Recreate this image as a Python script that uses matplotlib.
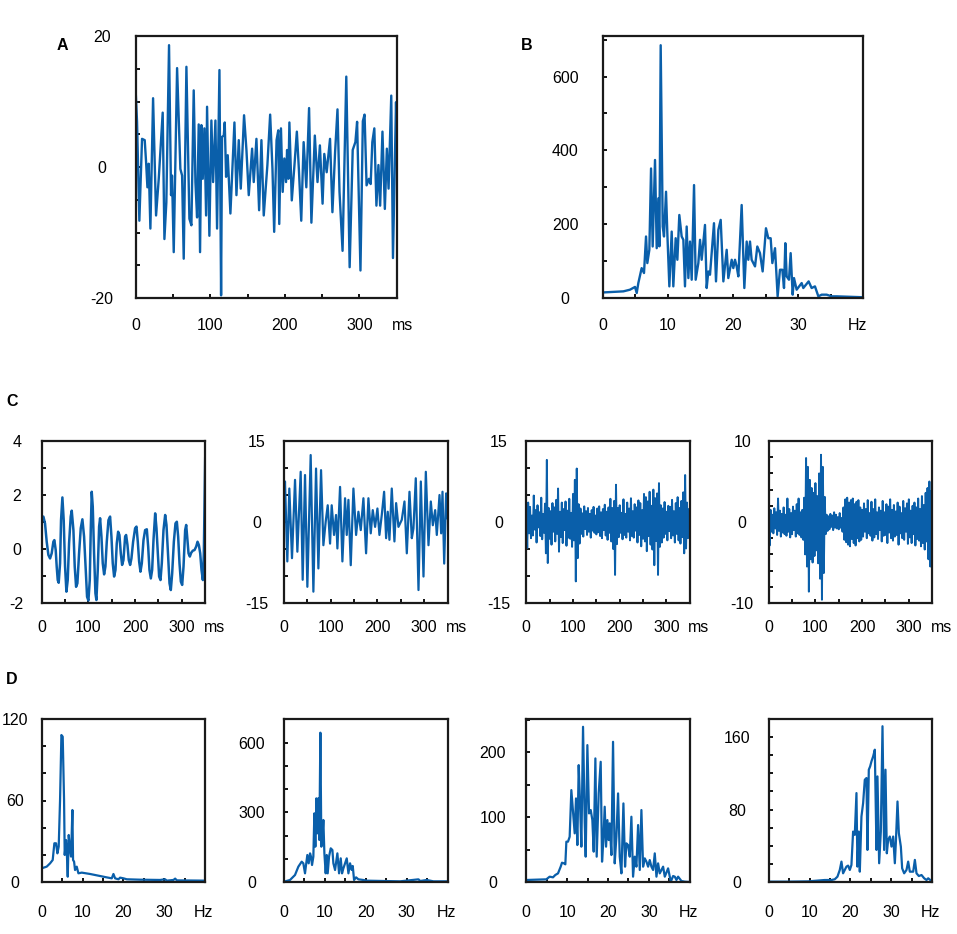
import matplotlib
matplotlib.use("Agg")
import matplotlib.pyplot as plt

plt.rcParams['font.family'] = ['Liberation Sans', 'DejaVu Sans']
plt.rcParams['font.size'] = 11.5

BLUE = '#0A5FAA'

# ---------------- Panel A : raw signal (ms, value) ----------------
a_t = [0, 1.8, 4.9, 8.5, 12.1, 13.9, 15.7, 17.4, 19.7, 23.3, 27.3, 30.9, 36.2, 38.5, 41.1, 44.7,
       47.4, 48.7, 51.0, 55.5, 59.9, 62.2, 64.4, 68.0, 72.0, 74.7, 77.8, 80.1, 82.3, 84.5, 86.3,
       88.1, 89.9, 92.1, 94.4, 95.7, 98.8, 101.5, 103.8, 106.9, 109.1, 112.3, 114.5, 115.8, 118.1,
       119.4, 121.2, 123.4, 127.0, 132.4, 135.1, 138.2, 140.9, 145.3, 148.5, 151.6, 156.1, 158.3,
       161.9, 165.5, 168.6, 171.7, 176.6, 180.3, 183.4, 185.7, 188.9, 191.2, 192.5, 194.8, 197.1,
       199.3, 201.6, 203.0, 204.8, 206.1, 209.3, 212.9, 216.1, 218.8, 222.0, 225.2, 228.8, 232.5,
       235.6, 240.2, 243.8, 247.0, 250.6, 252.9, 256.1, 260.6, 263.8, 267.4, 270.6, 273.3, 277.4,
       282.4, 286.9, 291.0, 294.6, 296.9, 301.4, 304.6, 306.9, 309.6, 312.8, 315.1, 317.3, 320.0,
       322.8, 325.5, 327.8, 330.9, 334.1, 336.8, 339.1, 342.7, 345.0, 349.1, 350.0]
a_v = [11.5, 6.9, -8.2, 4.3, 4.1, 0.8, -3.1, 0.5, -9.4, 10.5, -7.4, -1.8, 8.3, -11.0, -5.4, 18.6,
       -4.3, -1.3, -13.0, 15.1, -0.3, -1.3, -14.0, 15.3, -7.9, -8.9, 11.7, -2.3, -7.7, 6.5, -13.0,
       6.4, -1.8, 5.9, -7.4, 9.2, -10.5, 7.1, -2.3, 7.1, -9.4, 14.8, -19.6, 4.6, 4.8,
       6.8, -1.5, 1.8, -7.1, 6.8, -4.3, 4.1, -3.3, 7.9, 2.6, -4.3, 2.8, -2.3,
       4.3, -6.6, 4.1, -7.4, 0.3, 8.0, -0.3, -9.9, 4.1, 5.6, -8.7, 5.9, -3.8,
       1.3, -2.3, 2.6, -1.8, 6.8, -5.1, 0.3, 5.4, -0.3, -8.2, 3.8, -3.1, 9.0,
       -8.5, 4.8, -2.3, 3.3, -5.6, 2.0, -0.8, 4.3, -6.9, 2.3, 8.8, -3.8, -12.8,
       13.8, -15.3, 2.6, 3.8, 6.9, -15.8, 7.0, 8.0, -2.8, -1.8, -2.6, 3.8, 5.9,
       -5.9, 0.3, -5.9, 5.4, -6.4, 2.8, -3.3, 10.9, -13.9, 9.9, 3.8]

# ---------------- Panel B : spectrum (Hz, power) ----------------
b_f = [0, 3.17, 4.19, 4.96, 5.22, 5.47, 5.98, 6.34, 6.65, 6.85, 7.16, 7.42, 7.67, 8.03, 8.29, 8.54,
       8.70, 8.90, 9.21, 9.41, 9.72, 9.92, 10.23, 10.59, 10.84, 11.20, 11.46, 11.76, 12.12, 12.38,
       12.63, 12.89, 13.15, 13.40, 13.66, 14.02, 14.27, 14.68, 14.94, 15.19, 15.70, 15.96, 16.21,
       16.47, 17.08, 17.39, 17.75, 18.11, 18.52, 19.03, 19.28, 19.80, 20.05, 20.31, 20.56, 20.82,
       21.33, 21.74, 22.10, 22.35, 22.61, 22.86, 23.38, 23.73, 24.14, 24.55, 25.06, 25.42, 25.78,
       26.04, 26.45, 26.85, 27.21, 27.57, 27.83, 28.03, 28.24, 28.59, 28.85, 29.16, 29.36, 29.77,
       30.54, 30.79, 31.61, 32.07, 32.58, 33.10, 33.61, 34.37, 35.14, 35.91, 40.0]
b_p = [15, 18, 22.5, 30, 13.5, 40.5, 81, 67.6, 166.7, 94.6, 130.6, 351, 139.6, 374, 135, 270,
       140, 685, 193.7, 166.7, 288, 175.7, 31.5, 180, 31.5, 162, 103.6, 225, 166.7, 157.7,
       31.5, 193.7, 54, 153, 49.5, 306, 49.5, 94.6, 157.7, 103.6, 198, 27, 72,
       63, 202.7, 45, 184.7, 211.7, 45, 130.6, 54, 103.6, 81, 103.6, 85.6, 58.6,
       252, 27, 153, 103.6, 153, 103.6, 85.6, 139.6, 121.6, 72, 189, 162, 162,
       94.6, 135, 4.5, 76.6, 76.6, 27, 148.6, 58.6, 49.5, 121.6, 9, 54, 22.5,
       40.5, 27, 45, 27, 31.5, 4.5, 9, 9, 4.5, 4.5, 2]

# ---------------- Panel C : band-filtered signals ----------------
c1_t = [0, 3.6, 7.1, 10.7, 14.3, 17.9, 21.4, 25.0, 27.1, 30.0, 32.1, 34.3, 36.4, 39.3, 41.4, 44.3,
        47.1, 50.0, 52.9, 55.7, 58.6, 62.1, 64.3, 67.9, 70.7, 73.6, 76.4, 80.0, 83.6, 87.1, 90.7,
        94.3, 97.1, 100.0, 102.9, 105.0, 107.1, 109.3, 112.1, 115.0, 117.1, 120.0, 122.9, 125.0,
        127.9, 130.7, 133.6, 136.4, 139.3, 142.9, 146.4, 149.3, 152.1, 155.0, 157.9, 160.7, 163.6,
        166.4, 169.3, 172.1, 175.0, 178.6, 180.7, 183.6, 186.4, 189.3, 192.1, 195.7, 200.0, 202.9,
        205.7, 208.6, 211.4, 214.3, 217.9, 221.4, 225.0, 227.9, 230.7, 233.6, 236.4, 239.3, 242.9,
        245.7, 248.6, 251.4, 254.3, 257.1, 260.7, 264.3, 267.1, 270.7, 273.6, 276.4, 279.3, 282.9,
        286.4, 289.3, 292.1, 295.0, 297.9, 300.7, 303.6, 307.1, 309.3, 311.4, 314.3, 317.1, 320.0,
        323.6, 327.1, 330.7, 333.6, 336.4, 339.3, 342.1, 345.0, 347.1, 348.6, 350.0]
c1_v = [1.14, 1.20, 0.95, 0.27, -0.22, -0.35, -0.16, 0.27, 0.33, -0.04, -0.65, -1.15, -1.25, -0.53,
        1.07, 1.91, 1.07, -0.65, -1.58, -1.15, 0.21, 1.20, 1.42, 0.70, -0.65, -1.40, -1.27, -0.16,
        0.77, 1.10, 0.46, -0.78, -1.77, -1.91, -1.15, 0.70, 2.12, 1.57, -0.16, -1.64, -1.89, -0.78,
        0.83, 1.14, 0.46, -0.53, -0.94, -0.65, 0.27, 1.07, 1.20, 0.46, -0.53, -1.02, -0.78, 0.21,
        0.64, 0.52, -0.16, -0.59, -0.41, 0.46, 0.52, 0.15, -0.41, -0.59, -0.35, 0.27, 0.77, 0.83,
        0.27, -0.47, -0.84, -0.53, 0.33, 0.70, 0.73, 0.09, -0.78, -1.09, -0.78, 0.33, 1.32,
        0.77, -0.16, -1.02, -1.15, -0.53, 0.70, 1.26, 0.89, -0.28, -1.27, -1.52, -0.90, 0.27,
        0.95, 1.01, 0.46, -0.53, -1.21, -1.33, -0.65, 0.70, 0.89, 0.46, -0.16, -0.28, -0.14,
        -0.06, -0.04, 0.09, 0.27, 0.15, -0.16, -0.78, -1.15, -0.16, 1.69, 3.36]

c2_t = [0, 2.1, 7.1, 11.4, 17.1, 23.6, 28.6, 35.7, 40.0, 45.0, 50.0, 57.1, 62.9, 68.6, 73.6, 79.3,
        84.3, 89.3, 93.6, 98.6, 102.1, 107.1, 111.4, 114.3, 120.0, 125.0, 130.7, 134.3, 137.9,
        142.9, 148.6, 154.3, 159.3, 164.3, 170.0, 175.7, 180.7, 185.7, 190.0, 195.0, 200.0, 204.3,
        209.3, 214.3, 218.6, 222.1, 225.7, 230.7, 236.4, 240.0, 245.0, 252.1, 257.9, 262.9, 268.6,
        273.6, 277.1, 282.1, 287.9, 292.9, 298.6, 303.6, 309.3, 314.3, 318.6, 323.6, 327.1, 332.9,
        336.4, 339.3, 342.9, 347.1, 350.0]
c2_v = [1.0, 7.5, -7.3, 6.2, -6.7, 7.8, -5.5, 9.3, -10.7, 8.7, -12.0, 12.4, -12.9, 9.9, -8.6, 9.6,
        -4.3, 0.1, 3.1, -4.0, 3.1, -2.4, 1.3, -4.9, 6.5, -7.3, 4.4, -2.4, 4.1,
        -8.0, 6.2, -2.4, 1.9, -1.5, 4.4, -5.8, 4.4, -2.1, 2.2, -0.9, 2.5, -2.4,
        1.3, 5.6, -3.0, 1.9, -3.3, 6.2, -3.6, 3.5, -0.9, 0.4, 3.8, -5.8, 5.6,
        -3.0, -1.2, 8.1, -12.6, 7.5, -10.1, 9.3, -4.3, 3.8, -0.6, 2.2, -2.4, 5.0,
        -2.1, 5.6, -7.7, 5.3, 0.7]

# C3 and C4 sampled every 2 ms from 0 to 350 ms
c34_t = list(range(0, 351, 2))
c3_v = [1.5, -4.8, 3.6, -2.1, 2.8, -3.0, 1.2, -2.5, 4.9, -1.4,
        2.2, -3.8, 3.1, -1.0, 1.8, -2.6, 4.5, -3.2, 1.5, -2.0,
        3.4, -5.8, 11.5, -7.6, 2.6, -3.1, 2.0, -4.2, 3.5, -1.8,
        2.7, -3.6, 4.1, -2.2, 6.2, -5.5, 1.9, -2.8, 3.6, -3.9,
        2.4, -1.5, 3.8, -4.4, 2.1, -2.9, 4.3, -3.1, 1.7, -4.6,
        5.2, -3.4, 7.8, -11.0, 9.9, -6.7, 3.3, -4.0, 2.5, -2.2,
        1.6, -2.7, 2.9, -1.3, 2.0, -2.4, 2.6, -1.8, 1.5, -2.9,
        2.2, -1.6, 2.8, -2.0, 1.2, -2.3, 2.5, -1.9, 2.9, -2.6,
        1.8, -3.0, 2.4, -1.5, 3.2, -2.5, 1.9, -3.3, 2.7, -2.0,
        4.3, -3.6, 2.6, -5.0, 3.9, -9.8, 6.9, -4.1, 2.6, -2.8,
        3.1, -2.0, 1.7, -3.2, 4.2, -2.4, 1.5, -2.9, 3.6, -1.8,
        2.5, -3.4, 4.4, -2.6, 2.0, -2.9, 3.3, -1.6, 2.7, -3.8,
        4.0, -2.4, 3.5, -4.5, 2.2, -3.1, 5.2, -3.6, 4.6, -5.4,
        3.8, -2.6, 5.6, -4.2, 3.0, -5.1, 6.0, -8.0, 4.4, -3.5,
        5.3, -9.8, 7.2, -4.6, 3.1, -3.8, 2.5, -2.9, 3.7, -2.2,
        1.9, -3.4, 3.0, -1.7, 2.8, -3.0, 4.1, -2.5, 2.0, -3.8,
        3.5, -2.2, 4.6, -3.4, 2.6, -4.0, 3.9, -2.8, 5.5, -5.8,
        8.7, -4.9, 3.6, -3.0, 2.4, 0.5]
c4_v = [4.1, -2.9, 1.5, -1.2, 0.9, -1.4, 1.7, -0.8, 1.2, -1.6,
        2.9, -1.1, 1.4, -1.8, 1.0, -1.3, 1.8, -1.5, 0.9, -1.7,
        2.9, -1.2, 1.6, -1.9, 1.1, -1.5, 1.9, -1.0, 1.4, -1.8,
        2.2, -1.4, 2.9, -1.6, 1.2, -1.9, 1.5, -2.2, 3.0, -4.0,
        7.9, -5.5, 6.8, -8.6, 5.2, -4.6, 4.2, -5.0, 3.6, -4.2,
        4.8, -3.5, 3.2, -5.1, 6.0, -7.0, 8.3, -9.6, 6.8, -6.3,
        3.1, -1.5, 0.9, -1.1, 0.7, -0.9, 1.0, -0.6, 0.8, -1.0,
        1.2, -0.7, 0.9, -0.8, 0.6, -0.9, 1.1, -0.7, 0.5, -1.2,
        1.8, -2.2, 2.8, -2.5, 3.0, -2.8, 2.4, -3.0, 2.7, -2.1,
        2.9, -2.6, 2.2, -2.9, 2.5, -2.0, 2.7, -2.4, 1.8, -2.2,
        1.5, -1.8, 2.3, -1.2, 1.6, -2.0, 2.7, -1.4, 1.1, -1.7,
        2.5, -2.3, 1.6, -1.9, 2.8, -1.5, 1.2, -2.1, 1.8, -1.0,
        1.4, -2.4, 2.6, -1.7, 1.2, -1.6, 2.2, -2.6, 1.9, -1.3,
        2.8, -2.0, 1.5, -2.3, 2.1, -1.8, 1.3, -1.6, 2.4, -2.8,
        1.9, -1.4, 1.1, -2.0, 2.6, -2.2, 1.7, -1.2, 2.3, -2.7,
        2.8, -1.9, 1.4, -2.6, 2.0, -1.5, 2.4, -2.9, 1.8, -2.1,
        2.9, -2.3, 1.6, -3.0, 3.2, -2.6, 2.1, -3.4, 3.6, -2.4,
        4.2, -4.6, 5.0, -5.5, 3.8, -1.0]

# ---------------- Panel D : band spectra (Hz, power) ----------------
d1_f = [0, 1.22, 2.04, 2.69, 3.10, 3.51, 3.84, 4.16, 4.49, 4.82, 5.14, 5.47, 5.63, 5.96, 6.12, 6.37,
        6.61, 6.94, 7.18, 7.51, 7.67, 7.92, 8.16, 8.57, 8.98, 9.80, 11.84, 14.29, 15.92, 17.14,
        17.55, 17.96, 18.78, 19.18, 20.0, 20.82, 24.08, 28.98, 30.2, 30.6, 32.24, 32.65, 33.06, 40.0]
d1_p = [10.1, 11.3, 13.7, 16.2, 28.5, 28.5, 21.1, 26.0, 60.4, 108.2, 107.0, 60.4, 19.9, 30.9, 23.6, 3.9,
        34.6, 23.6, 18.7, 53.0, 16.2, 15.0, 8.8, 11.3, 6.4, 6.9, 5.9, 4.4, 3.4, 2.7,
        5.9, 2.7, 2.0, 3.2, 2.7, 2.0, 1.7, 1.5, 2.0, 1.0, 1.5, 2.5, 1.2, 1.0]

d2_f = [0, 1.47, 2.69, 3.51, 4.33, 4.73, 5.14, 5.39, 5.71, 6.04, 6.37, 6.61, 6.86, 7.18, 7.43, 7.67,
        7.92, 8.16, 8.41, 8.65, 8.90, 9.14, 9.39, 9.63, 9.88, 10.20, 10.45, 10.69, 11.02, 11.43,
        11.84, 12.08, 12.49, 13.06, 13.47, 13.88, 14.20, 14.53, 14.94, 15.35, 15.76, 16.16, 16.57,
        16.82, 17.14, 17.63, 18.20, 19.43, 20.24, 24.33, 28.41, 32.90, 33.31, 34.94, 36.57, 40.0]
d2_p = [1.4, 8.6, 30.1, 66.0, 87.6, 80.4, 37.3, 73.2, 116.3, 80.4, 123.4, 109.1, 73.2, 109.1, 295.7, 152.1,
        360.3, 209.6, 360.3, 180.9, 643.0, 152.1, 195.2, 267.0, 123.4, 37.3, 116.3, 37.3, 109.1, 145.0,
        137.8, 80.4, 51.7, 123.4, 37.3, 101.9, 37.3, 58.8, 80.4, 101.9, 37.3, 80.4, 51.7,
        68.9, 8.6, 20.1, 11.5, 8.6, 5.7, 4.3, 2.9, 11.5, 4.3, 8.6, 2.9, 2.9]

d3_f = [0, 4.90, 5.71, 6.53, 7.10, 7.76, 8.41, 8.73, 9.22, 9.55, 9.80, 10.20, 10.61, 11.02, 11.43,
        11.84, 12.16, 12.49, 12.82, 13.14, 13.47, 13.88, 14.29, 14.53, 14.94, 15.35, 15.76, 16.16,
        16.49, 16.90, 17.22, 17.71, 18.20, 18.53, 18.86, 19.18, 19.51, 19.84, 20.16, 20.41, 20.82,
        21.22, 21.63, 22.04, 22.45, 22.86, 23.27, 23.76, 24.16, 24.49, 24.90, 25.31, 25.71, 26.12,
        26.53, 26.94, 27.35, 27.76, 28.16, 28.57, 28.98, 29.39, 29.80, 30.20, 30.61, 31.02, 31.43,
        31.84, 32.24, 32.65, 33.47, 33.88, 34.69, 35.35, 35.92, 36.33, 36.73, 37.14, 37.96, 38.78, 40.0]
d3_p = [3.1, 4.1, 8.2, 7.2, 10.8, 13.3, 23.6, 29.7, 28.7, 27.2, 62.1, 62.1, 69.7, 141.5, 108.2,
        74.9, 128.7, 56.9, 180.0, 123.6, 54.4, 239.0, 92.8, 39.0, 210.8, 105.6, 110.8, 95.4,
        46.7, 190.3, 39.0, 136.4, 185.1, 31.3, 64.6, 115.9, 54.4, 95.4, 64.6, 90.3, 41.5,
        215.9, 28.7, 69.7, 136.4, 39.0, 13.3, 121.0, 23.6, 59.5, 56.9, 39.0, 100.5, 8.2,
        39.0, 23.6, 87.7, 18.5, 110.8, 23.6, 36.4, 31.3, 23.6, 33.8, 23.6, 18.5, 44.1,
        8.2, 28.7, 13.3, 23.6, 8.2, 21.0, 0.5, 9.2, 8.2, 3.1, 8.2, 1.5, 0.5, 0]

d4_f = [0, 4.73, 9.63, 13.71, 15.35, 16.16, 16.82, 17.39, 17.80, 18.20, 18.61, 19.02, 19.43, 19.84,
        20.24, 20.65, 21.06, 21.47, 21.71, 22.04, 22.29, 22.69, 23.10, 23.51, 23.92, 24.16, 24.49,
        24.82, 25.14, 25.55, 25.96, 26.37, 26.61, 27.02, 27.43, 27.84, 28.24, 28.57, 28.90, 29.22,
        29.63, 30.04, 30.45, 30.86, 31.10, 31.51, 31.84, 32.33, 32.65, 33.14, 33.71, 34.12, 34.53,
        35.35, 35.76, 36.16, 36.73, 37.39, 38.04, 38.61, 39.02, 40.0]
d4_p = [0.4, 0.4, 0.7, 2.2, 2.2, 3.0, 5.9, 13.3, 22.5, 9.6, 13.3, 17.0, 18.1, 13.3,
        18.8, 55.7, 52.0, 98.2, 17.0, 55.7, 11.4, 72.3, 87.1, 112.9, 114.8, 35.4, 124.0,
        127.7, 133.2, 138.7, 146.1, 35.4, 116.6, 20.7, 55.7, 172.0, 35.4, 124.0, 31.7, 46.5,
        50.2, 39.1, 50.2, 20.7, 42.8, 88.9, 53.9, 39.1, 15.1, 9.6, 13.3, 22.5, 11.4,
        11.4, 24.4, 9.6, 6.6, 7.7, 4.1, 2.2, 4.1, 0.4]

ms_ticks = list(range(0, 351, 50))
ms_labels = ['0', '', '100', '', '200', '', '300', '']
hz_ticks = list(range(0, 41, 5))
hz_labels = ['0', '', '10', '', '20', '', '30', '', '']

W, H = 957, 934
fig = plt.figure(figsize=(W / 100, H / 100), dpi=100)


def make_ax(x0, y0, x1, y1):
    return fig.add_axes([x0 / W, 1 - y1 / H, (x1 - x0) / W, (y1 - y0) / H])


def style(ax, xt, xl, yt, yl, ylim, xlim, ypad, xpad, unit, unit_dx):
    ax.set_xlim(*xlim)
    ax.set_ylim(*ylim)
    ax.set_xticks(xt, xl)
    ax.set_yticks(yt, yl)
    for s in ax.spines.values():
        s.set_linewidth(1.6)
        s.set_color('#1a1a1a')
    ax.tick_params(direction='in', length=3, width=1.3, top=False, right=False,
                   labelsize=11.5, colors='black')
    ax.tick_params(axis='y', pad=ypad)
    ax.tick_params(axis='x', pad=xpad)
    for lab_ in ax.get_yticklabels():
        lab_.set_horizontalalignment('center')
    ax.annotate(unit, xy=(1, 0), xycoords='axes fraction', xytext=(unit_dx, -xpad),
                textcoords='offset points', ha='center', va='top', fontsize=11.5)


def lab(vals, keep):
    return [str(v) if v in keep else '' for v in vals]


# Panel A
axA = make_ax(135.7, 36, 396.7, 298)
axA.plot(a_t, a_v, color=BLUE, lw=1.7)
yt = list(range(-20, 21, 5))
style(axA, ms_ticks, ms_labels, yt, lab(yt, [-20, 0, 20]), (-20, 20), (0, 350), 24.5, 14.5, 'ms', 4)

# Panel B
axB = make_ax(602.7, 36, 863.3, 298)
axB.plot(b_f, b_p, color=BLUE, lw=1.7)
yt = list(range(0, 701, 100))
style(axB, hz_ticks, hz_labels, yt, lab(yt, [0, 200, 400, 600]), (0, 710), (0, 40), 27, 14.5, 'Hz', -4.5)

# Row C
c_left = [41.7, 284.0, 526.3, 768.7]
c_data = [(c1_t, c1_v, 1.8), (c2_t, c2_v, 1.6), (c34_t, c3_v, 1.4), (c34_t, c4_v, 1.4)]
c_y = [(list(range(-2, 5, 1)), [-2, 0, 2, 4], (-2, 4), 18),
       (list(range(-15, 16, 5)), [-15, 0, 15], (-15, 15), 19.7),
       (list(range(-15, 16, 5)), [-15, 0, 15], (-15, 15), 19.9),
       (list(range(-10, 11, 2)), [-10, 0, 10], (-10, 10), 19)]
for xl, (t, v, lw), (yt, keep, ylim, pad) in zip(c_left, c_data, c_y):
    ax = make_ax(xl, 441, xl + 163.5, 603)
    ax.plot(t, v, color=BLUE, lw=lw)
    style(ax, ms_ticks, ms_labels, yt, lab(yt, keep), ylim, (0, 350), pad, 12.5, 'ms', 6.5)

# Row D
d_data = [(d1_f, d1_p), (d2_f, d2_p), (d3_f, d3_p), (d4_f, d4_p)]
d_y = [(list(range(0, 121, 20)), [0, 60, 120], (0, 120), 19.2),
       (list(range(0, 701, 100)), [0, 300, 600], (0, 702), 23),
       (list(range(0, 251, 50)), [0, 100, 200], (0, 251), 24),
       (list(range(0, 181, 20)), [0, 80, 160], (0, 180), 22.7)]
for xl, (f, p), (yt, keep, ylim, pad) in zip(c_left, d_data, d_y):
    ax = make_ax(xl, 719, xl + 163.5, 882)
    ax.plot(f, p, color=BLUE, lw=1.6)
    style(ax, hz_ticks, hz_labels, yt, lab(yt, keep), ylim, (0, 40), pad, 16.5, 'Hz', -1)

for letter, x, y in [('A', 62, 45), ('B', 527, 45), ('C', 12, 402), ('D', 12, 680)]:
    fig.text(x / W, 1 - y / H, letter, fontsize=11.5, fontweight='bold', ha='center', va='center')

fig.savefig('out.png', dpi=100)
